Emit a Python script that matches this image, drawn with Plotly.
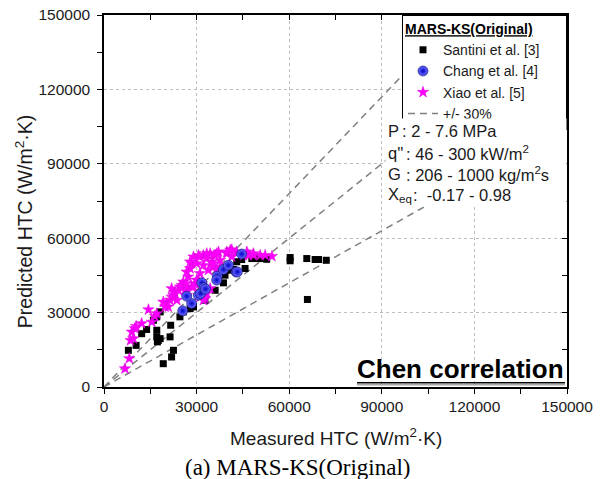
import plotly.graph_objects as go

# ---------------- data ----------------
santini_x = [7900, 10400, 12200, 13800, 16000, 17100, 18200, 17100, 17100, 17600, 18200, 17300,
             19200, 21900, 22500, 21400, 21600, 24600, 25700, 27900, 29000, 32700, 36000, 38700,
             39200, 40300, 41900, 43000, 44600, 45700, 47900, 50000, 51600, 52700, 60300, 60300,
             65700, 68400, 69500, 72000, 65900]
santini_y = [14800, 16800, 21500, 23200, 26900, 28300, 30300, 22900, 20200, 18800, 19500, 18200,
             9400, 12100, 14800, 20200, 24900, 28300, 30300, 31600, 32300, 35000, 39000, 42000,
             45100, 47100, 47400, 50500, 51400, 47800, 51800, 51800, 51800, 51500, 52200, 50900,
             51800, 51400, 51400, 51100, 35300]

chang_x = [25500, 28400, 26800, 30600, 31300, 31700, 32400, 32900, 36700, 36500, 38700, 40300,
           42800, 43200, 44600]
chang_y = [30700, 33700, 36600, 37000, 37700, 42000, 40000, 39500, 44700, 43100, 47400, 49100,
           46400, 46400, 53600]

xiao_x = [6800, 8200, 8600, 9500, 9000, 10000, 10400, 12200, 14400, 15500, 16500, 17100,
          20300, 21400, 22500, 23000, 21900, 24100, 25200, 25700, 26800, 28400, 29500,
          21900, 23600, 26300, 26600, 27300, 26800, 27900, 28400, 29000, 30600, 30000, 32200,
          32200, 33300, 34400, 34900, 36000, 37100, 37600, 39800, 40900, 41400, 43000, 45200,
          46800, 48400, 50600, 52200, 54400, 31100, 30000, 31700, 29000, 33300, 32700, 34400,
          26800, 30600, 33800, 35400, 36500, 24600, 19200, 20800, 19800, 27900, 31100, 33300,
          36500, 39800, 41400, 46300, 48400, 35400, 37600, 31100, 32200, 30600]
xiao_y = [7400, 11500, 18800, 19500, 22200, 23600, 24500, 25600, 31200, 26200, 28500, 29600,
          33700, 35000, 37000, 37900, 39700, 39000, 41000, 42400, 39700, 40400, 41700,
          36300, 35000, 39000, 41700, 44400, 46400, 47800, 49800, 52500, 53100, 49800, 53100,
          49100, 51800, 53800, 50500, 53100, 54500, 51100, 53800, 55200, 52500, 54500, 53100,
          53100, 53100, 53100, 53100, 52700, 45800, 43100, 41700, 40400, 37700, 35700, 39700,
          37000, 37000, 47100, 48400, 47100, 40400, 34300, 32300, 32300, 50500, 52500, 53800,
          53800, 54500, 55400, 54500, 53800, 49800, 48400, 36300, 35000, 43100]

band_factors = [1.0, 1.3, 0.7]
axis_max = 150000
tick_vals = [0, 30000, 60000, 90000, 120000, 150000]
tick_text = ["0", "30000", "60000", "90000", "120000", "150000"]

# ---------------- geometry helpers (pixel -> paper) ----------------
W, H = 601, 479
L, R, T, B = 104, 567, 15, 386.7


def px(x):
    return (x - L) / (R - L)


def py(y):
    return (B - y) / (B - T)


FONT = "Arial, Liberation Sans, sans-serif"
SERIF = "Times New Roman, Liberation Serif, serif"
TXT = "#1a1a1a"

fig = go.Figure()

# +/- 30 % band lines
bx, by = [], []
for f in band_factors:
    bx += [0, axis_max, None]
    by += [0, axis_max * f, None]
fig.add_trace(go.Scatter(x=bx, y=by, mode="lines", name="+/- 30%",
                         line=dict(color="#808080", width=1.5, dash="7px,5px"),
                         legendrank=4, hoverinfo="skip"))

fig.add_trace(go.Scatter(x=santini_x, y=santini_y, mode="markers", name="Santini et al. [3]",
                         marker=dict(symbol="square", size=7, color="black"),
                         legendrank=1))
fig.add_trace(go.Scatter(x=xiao_x, y=xiao_y, mode="markers", name="Xiao et al. [5]",
                         marker=dict(symbol="star", size=8.5, color="#ff00ff",
                                     line=dict(width=0.5, color="#e000e0")),
                         legendrank=3))
fig.add_trace(go.Scatter(x=chang_x, y=chang_y, mode="markers", name="Chang et al. [4]",
                         marker=dict(symbol="circle", size=10, color="#7070ff",
                                     gradient=dict(type="radial", color="#0000c8"),
                                     line=dict(width=0.6, color="#000070")),
                         legendrank=2))

# dummy trace for mirrored inside-tick axes
fig.add_trace(go.Scatter(x=[None], y=[None], xaxis="x2", yaxis="y2", showlegend=False,
                         hoverinfo="skip"))

axis_common = dict(range=[0, axis_max], tickvals=tick_vals, ticktext=tick_text,
                   ticks="outside", ticklen=5, tickwidth=1.2, tickcolor="black",
                   minor=dict(tickvals=[15000, 45000, 75000, 105000, 135000], ticks="outside",
                              ticklen=5, tickcolor="black", showgrid=False),
                   showline=True, linecolor="black", linewidth=1.5, mirror=True,
                   showgrid=True, gridcolor="#bdbdbd", gridwidth=1, griddash="3px,3px",
                   zeroline=False, automargin=False,
                   tickfont=dict(family=FONT, size=15.5, color=TXT))

fig.update_layout(
    width=W, height=H,
    margin=dict(l=L, r=W - R, t=T, b=H - B, pad=0, autoexpand=False),
    paper_bgcolor="white", plot_bgcolor="white",
    xaxis=dict(**axis_common),
    yaxis=dict(**axis_common, ticklabelstandoff=4),
    xaxis2=dict(overlaying="x", side="top", range=[0, axis_max], ticks="inside",
                tickvals=[15000 * i for i in range(11)], ticklen=5, tickcolor="black",
                showticklabels=False, showgrid=False, showline=False, zeroline=False,
                automargin=False),
    yaxis2=dict(overlaying="y", side="right", range=[0, axis_max], ticks="inside",
                tickvals=[15000 * i for i in range(11)], ticklen=5, tickcolor="black",
                showticklabels=False, showgrid=False, showline=False, zeroline=False,
                automargin=False),
    showlegend=True,
    legend=dict(x=1, xanchor="right", y=1, yanchor="top",
                bgcolor="white", bordercolor="black", borderwidth=1,
                font=dict(family=FONT, size=14, color=TXT),
                title=dict(text="<b><u>MARS-KS(Original)</u></b>" + "\u00a0" * 8,
                           font=dict(family=FONT, size=14, color="black")),
                itemsizing="trace", tracegroupgap=0),
)

shapes = []
# underline Chen correlation
shapes.append(dict(type="line", xref="paper", yref="paper", x0=px(357), x1=px(565),
                   y0=py(382.5), y1=py(382.5), line=dict(color="black", width=1.6),
                   layer="above"))
shapes.append(dict(type="line", xref="paper", yref="paper", x0=px(357), x1=px(565),
                   y0=py(384.5), y1=py(384.5), line=dict(color="#a8a8a8", width=1.6),
                   layer="above"))
fig.update_layout(shapes=shapes)

ann = []
# white background box behind the parameter text (hides lines / grid there)
ann.append(dict(text=" ", xref="paper", yref="paper", x=px(385), y=py(118),
                xanchor="left", yanchor="top", showarrow=False, width=180, height=87,
                bgcolor="white", borderpad=0, font=dict(size=4)))
labels = ["P", "q''", "G", "X<sub>eq</sub>"]
values = [": 2 - 7.6 MPa", ": 46 - 300 kW/m<sup>2</sup>", ": 206 - 1000 kg/m<sup>2</sup>s",
          ":  -0.17 - 0.98"]
line_y = [131, 153, 174, 195]
colon_x = [400, 404, 404, 411]
for lab, val, yy, cx in zip(labels, values, line_y, colon_x):
    ann.append(dict(text=lab, xref="paper", yref="paper", x=px(386), y=py(yy),
                    xanchor="left", yanchor="middle", showarrow=False,
                    font=dict(family=FONT, size=16.5, color=TXT)))
    ann.append(dict(text=val, xref="paper", yref="paper", x=px(cx), y=py(yy),
                    xanchor="left", yanchor="middle", showarrow=False,
                    font=dict(family=FONT, size=16.5, color=TXT)))

ann.append(dict(text="<b>Chen correlation</b>", xref="paper", yref="paper",
                x=px(566), y=py(369), xanchor="right", yanchor="middle", showarrow=False,
                font=dict(family=FONT, size=26, color="black")))
ann.append(dict(text="Measured HTC (W/m<sup>2</sup>·K)", xref="paper", yref="paper",
                x=0.5, y=py(437), xanchor="center", yanchor="middle", showarrow=False,
                font=dict(family=FONT, size=19, color=TXT)))
ann.append(dict(text="Predicted HTC (W/m<sup>2</sup>·K)", xref="paper", yref="paper",
                x=px(24), y=py(222), xanchor="center", yanchor="middle", showarrow=False,
                textangle=-90, font=dict(family=FONT, size=19.5, color=TXT)))
ann.append(dict(text="(a) MARS-KS(Original)", xref="paper", yref="paper",
                x=px(298), y=py(467), xanchor="center", yanchor="middle", showarrow=False,
                font=dict(family=SERIF, size=23, color="black")))
fig.update_layout(annotations=ann)

fig.write_html("out.html", config={"displayModeBar": False},
               post_script="document.body.style.margin='0';document.body.style.padding='0';")
